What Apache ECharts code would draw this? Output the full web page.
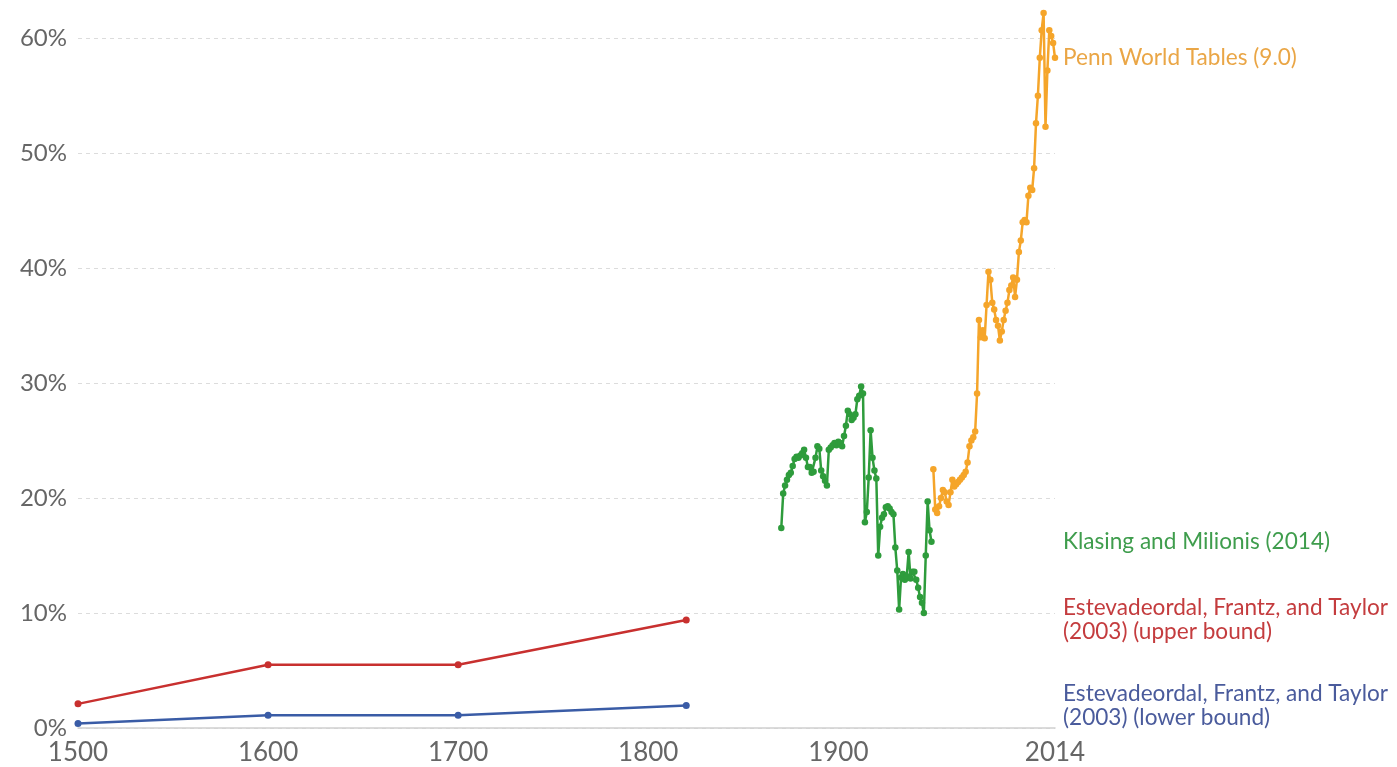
<!DOCTYPE html>
<html><head><meta charset="utf-8">
<script src="https://cdn.jsdelivr.net/npm/echarts@6/dist/echarts.min.js"></script>
<style>html,body{margin:0;padding:0;background:#fff}#c{width:1397px;height:767px}</style>
</head><body><div id="c"></div>
<script>
// ---- data ----
const eftYears = [1500, 1600, 1700, 1820];
const eftUpper = [2.1, 5.5, 5.5, 9.4];
const eftLower = [0.4, 1.1, 1.1, 1.95];

const kmYears = [1870,1871,1872,1873,1874,1875,1876,1877,1878,1879,
  1880,1881,1882,1883,1884,1885,1886,1887,1888,1889,
  1890,1891,1892,1893,1894,1895,1896,1897,1898,1899,
  1900,1901,1902,1903,1904,1905,1906,1907,1908,1909,
  1910,1911,1912,1913,1914,1915,1916,1917,1918,1919,
  1920,1921,1922,1923,1924,1925,1926,1927,1928,1929,
  1930,1931,1932,1933,1934,1935,1936,1937,1938,1939,
  1940,1941,1942,1943,1944,1945,1946,1947,1948,1949];
const kmValues = [17.4,20.4,21.1,21.6,22.0,22.2,22.8,23.4,23.6,23.5,
  23.7,23.9,24.2,23.5,22.7,22.7,22.2,22.3,23.5,24.5,
  24.3,22.4,21.9,21.5,21.1,24.2,24.4,24.6,24.8,24.6,
  24.9,24.8,24.5,25.4,26.3,27.6,27.3,26.8,27.0,27.3,
  28.6,28.9,29.7,29.1,17.9,18.8,21.8,25.9,23.5,22.4,
  21.7,15.0,17.5,18.3,18.6,19.2,19.3,19.1,18.8,18.6,
  15.7,13.7,10.3,13.1,13.4,12.9,13.2,15.3,13.0,13.6,
  13.6,12.9,12.2,11.4,10.9,10.0,15.0,19.7,17.2,16.2];

const pwtYears = [1950,1951,1952,1953,1954,1955,1956,1957,1958,1959,
  1960,1961,1962,1963,1964,1965,1966,1967,1968,1969,
  1970,1971,1972,1973,1974,1975,1976,1977,1978,1979,
  1980,1981,1982,1983,1984,1985,1986,1987,1988,1989,
  1990,1991,1992,1993,1994,1995,1996,1997,1998,1999,
  2000,2001,2002,2003,2004,2005,2006,2007,2008,2009,
  2010,2011,2012,2013,2014];
const pwtValues = [22.5,19.0,18.7,19.3,20.0,20.7,20.5,19.7,19.4,20.5,
  21.6,21.0,21.2,21.4,21.6,21.8,22.0,22.3,23.1,24.5,
  25.0,25.3,25.8,29.1,35.5,34.0,34.6,33.9,36.8,39.7,
  39.0,37.0,36.4,35.5,35.0,33.7,34.5,35.5,36.3,37.0,
  38.1,38.5,39.2,37.5,39.0,41.4,42.4,44.0,44.2,44.0,
  46.3,47.0,46.8,48.7,52.6,55.0,58.3,60.7,62.2,52.3,
  57.2,60.7,60.2,59.6,58.3];

const xTicks = [1500, 1600, 1700, 1800, 1900, 2014];
const yTicks = [0, 10, 20, 30, 40, 50, 60];

const names = {
  pwt: 'Penn World Tables (9.0)',
  km: 'Klasing and Milionis (2014)',
  up: 'Estevadeordal, Frantz, and Taylor\n(2003) (upper bound)',
  lo: 'Estevadeordal, Frantz, and Taylor\n(2003) (lower bound)'
};
const colors = { pwt: '#f5a52a', km: '#2e9c3c', up: '#c8302f', lo: '#3a5ca6' };
const textColors = { pwt: '#eaa646', km: '#3f9d4d', up: '#c43c3e', lo: '#4a5b9c' };

const zip = (xs, ys) => xs.map((x, i) => [x, ys[i]]);

const chart = echarts.init(document.getElementById('c'), null, { renderer: 'canvas' });

function mkSeries(key, xs, ys, sym, w) {
  return {
    name: key, type: 'line', data: zip(xs, ys),
    symbol: 'circle', symbolSize: sym, showSymbol: true,
    lineStyle: { color: colors[key], width: w },
    itemStyle: { color: colors[key] },
    animation: false, z: 3
  };
}

chart.setOption({
  animation: false,
  grid: { left: 78, right: 342, top: 13, bottom: 39, containLabel: false },
  xAxis: {
    type: 'value', min: 1500, max: 2014,
    axisLine: { show: true, lineStyle: { color: '#cfcfcf', width: 1.5 } },
    axisTick: { show: false },
    splitLine: { show: false },
    axisLabel: {
      customValues: xTicks,
      color: '#666', fontFamily: 'Lato', fontSize: 26, margin: 12,
      formatter: v => String(v)
    }
  },
  yAxis: {
    type: 'value', min: 0, max: 62.2,
    axisLine: { show: false },
    axisTick: { show: false, customValues: yTicks },
    splitLine: { show: true, lineStyle: { color: '#dcdcdc', type: [4, 4], width: 1 } },
    axisLabel: {
      customValues: yTicks,
      color: '#666', fontFamily: 'Lato', fontSize: 24, margin: 11,
      formatter: v => v + '%'
    }
  },
  series: [
    mkSeries('lo', eftYears, eftLower, 7, 2.5),
    mkSeries('up', eftYears, eftUpper, 7, 2.5),
    mkSeries('km', kmYears, kmValues, 6.5, 2.5),
    mkSeries('pwt', pwtYears, pwtValues, 6.5, 2.5)
  ]
});

// right-hand labels, vertically centred on each series' last value
const labelDefs = [
  ['pwt', pwtValues[pwtValues.length - 1]],
  ['km', kmValues[kmValues.length - 1]],
  ['up', eftUpper[eftUpper.length - 1]],
  ['lo', eftLower[eftLower.length - 1]]
];
const xEnd = chart.convertToPixel({ gridIndex: 0 }, [2014, 0])[0];
chart.setOption({
  graphic: labelDefs.map(([k, v]) => {
    const y = chart.convertToPixel({ gridIndex: 0 }, [2014, v])[1];
    return {
      type: 'text', x: xEnd + 8, y: y, silent: true,
      style: {
        text: names[k], fill: textColors[k], font: '22.6px Lato',
        lineHeight: 24, verticalAlign: 'middle', textAlign: 'left'
      }
    };
  })
});
</script></body></html>
